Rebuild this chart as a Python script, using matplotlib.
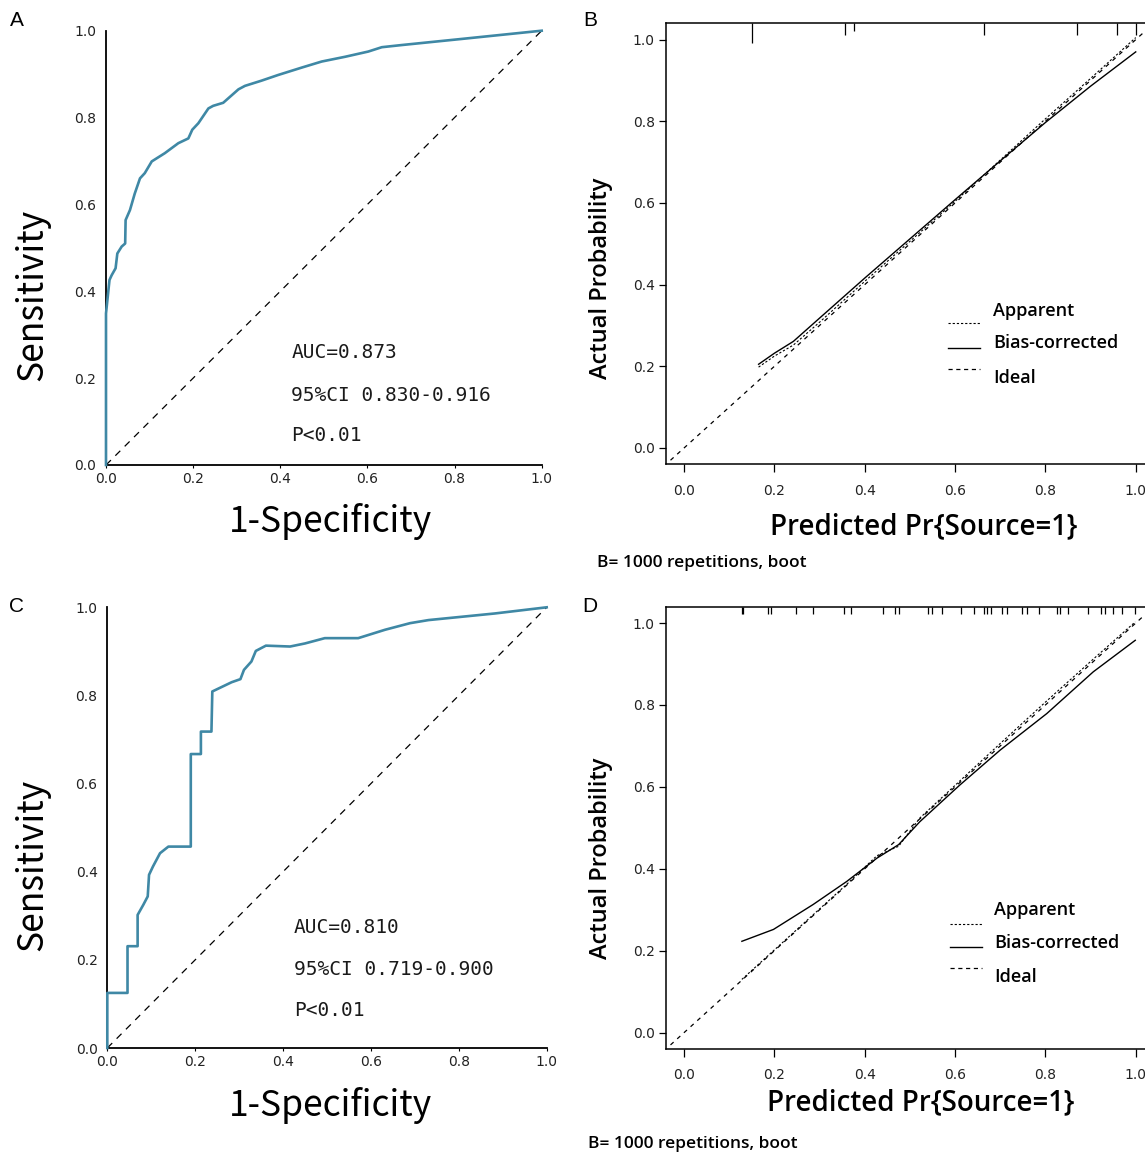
import matplotlib
matplotlib.use("Agg")
import matplotlib.pyplot as plt
from matplotlib.lines import Line2D

plt.rcParams['lines.scale_dashes'] = False

# ---------------- data ----------------
roc_a_fpr = [0, 0, 0.008, 0.013, 0.022, 0.026, 0.036, 0.044, 0.045, 0.055, 0.066, 0.078, 0.089,
             0.105, 0.135, 0.166, 0.189, 0.198, 0.212, 0.235, 0.246, 0.269, 0.304, 0.319, 0.357,
             0.395, 0.449, 0.495, 0.549, 0.602, 0.633, 0.679, 0.816, 1.0]
roc_a_tpr = [0, 0.349, 0.426, 0.437, 0.453, 0.487, 0.503, 0.510, 0.564, 0.587, 0.625, 0.660, 0.672,
             0.699, 0.718, 0.741, 0.752, 0.772, 0.787, 0.821, 0.827, 0.834, 0.865, 0.873, 0.885,
             0.898, 0.915, 0.929, 0.940, 0.952, 0.962, 0.967, 0.981, 1.0]

roc_c_fpr = [0, 0, 0.046, 0.046, 0.069, 0.069, 0.082, 0.092, 0.095, 0.104, 0.120, 0.139, 0.190,
             0.190, 0.213, 0.213, 0.237, 0.239, 0.283, 0.303, 0.311, 0.319, 0.328, 0.338, 0.361,
             0.416, 0.450, 0.495, 0.571, 0.632, 0.689, 0.731, 0.882, 1.0]
roc_c_tpr = [0, 0.125, 0.125, 0.231, 0.231, 0.302, 0.325, 0.344, 0.393, 0.412, 0.442, 0.457, 0.457,
             0.667, 0.667, 0.718, 0.718, 0.809, 0.830, 0.837, 0.858, 0.867, 0.877, 0.901, 0.913,
             0.911, 0.918, 0.930, 0.930, 0.949, 0.964, 0.971, 0.986, 1.0]

roc_a_text = ["AUC=0.873", "95%CI 0.830-0.916", "P<0.01"]
roc_c_text = ["AUC=0.810", "95%CI 0.719-0.900", "P<0.01"]

cal_b_pred = [0.165, 0.20, 0.242, 0.30, 0.40, 0.50, 0.60, 0.70, 0.80, 0.90, 1.0]
cal_b_bias = [0.205, 0.232, 0.261, 0.318, 0.416, 0.512, 0.608, 0.703, 0.797, 0.886, 0.970]
cal_b_app = [0.198, 0.225, 0.252, 0.308, 0.408, 0.506, 0.604, 0.705, 0.806, 0.905, 1.005]
rug_b_pos = [0.151, 0.356, 0.377, 0.663, 0.869, 0.958, 1.0]
rug_b_cnt = [5, 3, 2, 3, 3, 3, 3]

cal_d_pred = [0.128, 0.198, 0.286, 0.360, 0.427, 0.475, 0.522, 0.611, 0.700, 0.803, 0.906, 0.999]
cal_d_bias = [0.223, 0.252, 0.313, 0.369, 0.426, 0.459, 0.515, 0.605, 0.690, 0.779, 0.881, 0.958]
cal_d_app = [0.130, 0.200, 0.288, 0.362, 0.432, 0.455, 0.524, 0.615, 0.706, 0.810, 0.912, 1.003]
rug_d_pos = [0.129, 0.131, 0.185, 0.193, 0.247, 0.285, 0.353, 0.369, 0.440, 0.467, 0.475, 0.539,
             0.548, 0.572, 0.613, 0.641, 0.663, 0.670, 0.680, 0.703, 0.714, 0.748, 0.759, 0.785,
             0.825, 0.832, 0.849, 0.895, 0.923, 0.932, 0.949, 0.969, 0.999]
rug_d_cnt = [2] * len(rug_d_pos)

ideal = [-0.03, 1.04]
ticks = [0.0, 0.2, 0.4, 0.6, 0.8, 1.0]
tick_labels = ["0.0", "0.2", "0.4", "0.6", "0.8", "1.0"]
legend_labels = ["Apparent", "Bias-corrected", "Ideal"]
boot_note = "B= 1000 repetitions, boot"

# ---------------- figure ----------------
W, H = 1145, 1156
fig = plt.figure(figsize=(W / 100, H / 100), dpi=100)


def add_ax(l, t, r, b):
    return fig.add_axes([l / W, 1 - b / H, (r - l) / W, (b - t) / H])


def fx(px):
    return px / W


def fy(py):
    return 1 - py / H


ROC_COL = "#3F88A5"
CJK = ["Noto Sans CJK SC", "DejaVu Sans"]
SANS = ["Open Sans", "DejaVu Sans"]


def roc_panel(box, fpr, tpr, texts, text_y, xl_pos, yl_pos):
    ax = add_ax(*box)
    ax.plot([0, 1], [0, 1], color="black", lw=0.9, linestyle=(0, (5, 4.5)))
    ax.plot(fpr, tpr, color=ROC_COL, lw=1.9, solid_joinstyle="round", clip_on=False, zorder=3)
    ax.set_xlim(0, 1)
    ax.set_ylim(0, 1)
    for s in ["top", "right"]:
        ax.spines[s].set_visible(False)
    for s in ["left", "bottom"]:
        ax.spines[s].set_linewidth(1.3)
    ax.set_xticks(ticks)
    ax.set_yticks(ticks)
    ax.set_xticklabels(tick_labels, fontsize=10, color="#222222")
    ax.set_yticklabels(tick_labels, fontsize=10, color="#222222")
    ax.tick_params(axis="x", length=2, pad=3, width=0.8)
    ax.tick_params(axis="y", length=0, pad=7)
    for t, y in zip(texts, text_y):
        ax.text(0.425, y, t, fontsize=14, family="DejaVu Sans Mono", va="center", ha="left",
                color="#1a1a1a")
    fig.text(fx(xl_pos[0]), fy(xl_pos[1]), "1-Specificity", family=CJK, fontsize=25.5,
             ha="center", va="center")
    fig.text(fx(yl_pos[0]), fy(yl_pos[1]), "Sensitivity", family=CJK, fontsize=25.5,
             ha="center", va="center", rotation=90)
    return ax


def cal_panel(box, pred, bias, app, rug_pos, rug_cnt, leg, xl_pos, yl_pos, note_pos):
    ax = add_ax(*box)
    ax.set_xlim(-0.04, 1.04)
    ax.set_ylim(-0.04, 1.04)
    ax.plot(ideal, ideal, color="black", lw=0.9, linestyle=(0, (3.0, 3.5)))
    ax.plot(pred, app, color="black", lw=0.8, linestyle=(0, (1.6, 1.4)))
    ax.plot(pred, bias, color="black", lw=1.0)
    top = 1.04
    ax.vlines(rug_pos, [top - 0.0095 * c for c in rug_cnt], top, color="black", lw=0.9)
    for s in ax.spines.values():
        s.set_linewidth(1.1)
    ax.set_xticks(ticks)
    ax.set_yticks(ticks)
    ax.set_xticklabels(tick_labels, fontsize=10, color="#222222")
    ax.set_yticklabels(tick_labels, fontsize=10, color="#222222")
    ax.tick_params(axis="x", length=6, pad=8, width=0.9)
    ax.tick_params(axis="y", length=5, pad=3, width=0.9)
    # manual legend
    styles = [dict(linestyle=(0, (1.6, 1.4)), lw=0.8), dict(linestyle="-", lw=1.0),
              dict(linestyle=(0, (3.0, 2.6)), lw=0.9)]
    for lab, st, (ly, ty) in zip(legend_labels, styles, leg["y"]):
        fig.add_artist(Line2D([fx(leg["x0"]), fx(leg["x1"])], [fy(ly), fy(ly)], color="black", **st))
        fig.text(fx(leg["tx"]), fy(ty), lab, family=SANS, fontsize=13, ha="left", va="center",
                 fontweight="semibold")
    fig.text(fx(xl_pos[0]), fy(xl_pos[1]), "Predicted Pr{Source=1}", family=SANS, fontsize=20,
             ha="center", va="center", fontweight="semibold")
    fig.text(fx(yl_pos[0]), fy(yl_pos[1]), "Actual Probability", family=SANS, fontsize=17,
             ha="center", va="center", rotation=90, fontweight="semibold")
    fig.text(fx(note_pos[0]), fy(note_pos[1]), boot_note, family=SANS, fontsize=12.5,
             ha="left", va="center", fontweight="semibold")
    return ax


roc_panel((106, 30.7, 541.7, 465), roc_a_fpr, roc_a_tpr, roc_a_text, [0.259, 0.161, 0.067],
          (330, 522), (32, 295))
roc_panel((107.3, 607.3, 546.7, 1048), roc_c_fpr, roc_c_tpr, roc_c_text, [0.273, 0.177, 0.084],
          (330, 1106), (32, 865))

cal_panel((666, 23.3, 1153.8, 464.3), cal_b_pred, cal_b_bias, cal_b_app, rug_b_pos, rug_b_cnt,
          dict(x0=948, x1=980, tx=993, y=[(323, 311), (348, 343), (369, 378)]),
          (924, 527), (601, 278), (597, 563))
cal_panel((666, 606.7, 1153.8, 1049), cal_d_pred, cal_d_bias, cal_d_app, rug_d_pos, rug_d_cnt,
          dict(x0=950, x1=982, tx=994, y=[(924, 910), (947, 943), (968, 977)]),
          (921, 1103), (601, 858), (588, 1144))

for lab, (px, py) in zip(["A", "B", "C", "D"], [(17, 20), (590, 21), (17, 607), (590, 607)]):
    fig.text(fx(px), fy(py), lab, family=["Liberation Sans", "DejaVu Sans"], fontsize=15,
             ha="center", va="center")

fig.savefig("out.png", dpi=100, facecolor="white")
